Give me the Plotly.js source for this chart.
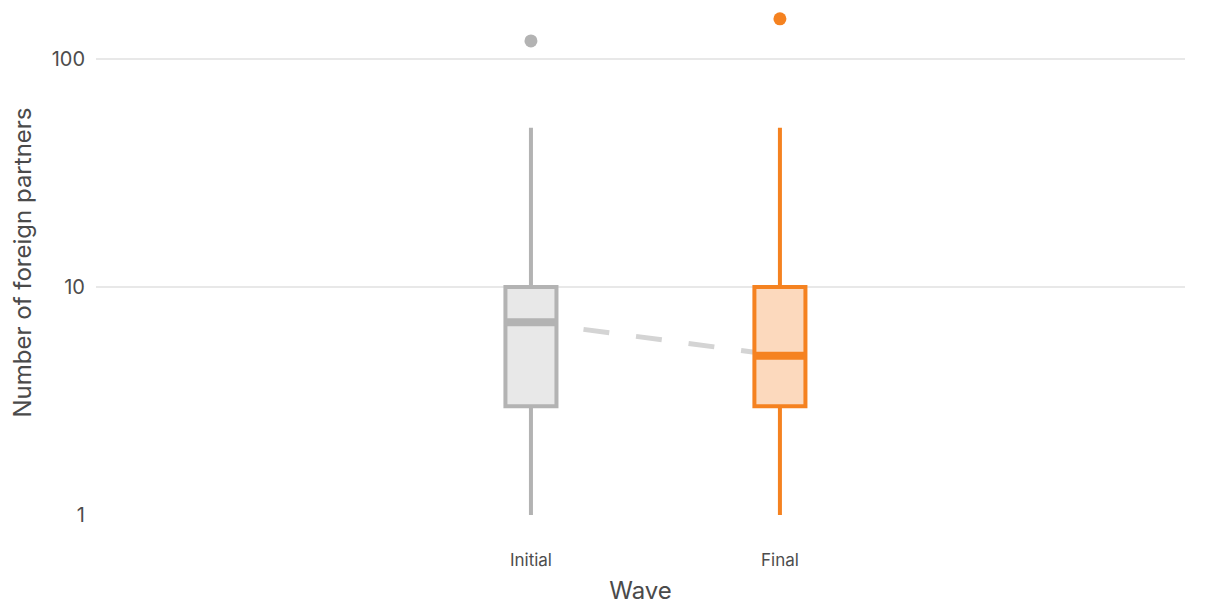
<!DOCTYPE html>
<html>
<head>
<meta charset="utf-8">
<script src="https://cdn.plot.ly/plotly-3.0.1.min.js"></script>
<style>html,body{margin:0;padding:0;background:#fff;}#chart{width:1214px;height:605px;}</style>
</head>
<body>
<div id="chart"></div>
<script>
// Data
const categories = ['Initial', 'Final'];
const lowerFence = [1, 1];
const q1 = [3, 3];
const median = [7, 5];
const q3 = [10, 10];
const upperFence = [50, 50];
const outliers = [[120], [150]];
const tickValsY = [1, 10, 100];
const tickTextY = ['1', '10', '100'];

// Styles
const lineColors = ['#b3b3b3', '#f58220'];
const fillColors = ['#e8e8e8', '#fcd9bd'];
const boxWidth = 0.205;
const pos = categories.map((c, i) => i);

const traces = [];
// dashed median trend line (underneath boxes)
traces.push({
  type: 'scatter', mode: 'lines', x: pos, y: median,
  xaxis: 'x', yaxis: 'y',
  line: {color: '#d4d4d4', width: 5, dash: '26px,27px'},
  hoverinfo: 'skip', showlegend: false
});
categories.forEach((c, i) => {
  traces.push({
    type: 'box', x: [pos[i]], xaxis: 'x2', yaxis: 'y',
    lowerfence: [lowerFence[i]], q1: [q1[i]], median: [median[i]], q3: [q3[i]], upperfence: [upperFence[i]],
    width: boxWidth, whiskerwidth: 0,
    line: {color: lineColors[i], width: 4},
    fillcolor: fillColors[i], boxpoints: false, name: c, showlegend: false
  });
  traces.push({
    type: 'scatter', mode: 'lines', xaxis: 'x2', yaxis: 'y',
    x: [pos[i] - boxWidth / 2, pos[i] + boxWidth / 2], y: [median[i], median[i]],
    line: {color: lineColors[i], width: 8}, hoverinfo: 'skip', showlegend: false
  });
  traces.push({
    type: 'scatter', mode: 'markers', xaxis: 'x2', yaxis: 'y',
    x: outliers[i].map(() => pos[i]), y: outliers[i],
    marker: {color: lineColors[i], size: 13}, showlegend: false
  });
});

const xr = [-1.747, 2.627];
const layout = {
  width: 1214, height: 605,
  margin: {l: 96, r: 29, t: 10, b: 90},
  paper_bgcolor: '#fff', plot_bgcolor: '#fff',
  font: {family: 'Inter, sans-serif', color: '#4d4d4d', size: 17},
  showlegend: false,
  xaxis: {
    type: 'linear', range: xr, tickvals: pos, ticktext: categories,
    showgrid: false, zeroline: false, showline: false, ticks: '',
    ticklabelstandoff: 33,
    tickfont: {size: 17, color: '#4d4d4d'},
    title: {text: 'Wave', font: {size: 24, color: '#4a4a4a'}, standoff: 15}
  },
  xaxis2: {
    type: 'linear', range: xr, overlaying: 'x', visible: false
  },
  yaxis: {
    type: 'log', range: [0, 2.215], tickvals: tickValsY, ticktext: tickTextY,
    showgrid: true, gridcolor: '#e8e8e8', gridwidth: 1.5,
    zeroline: false, showline: false, ticks: '', ticklabelstandoff: 10,
    tickfont: {size: 20, color: '#4d4d4d'},
    title: {text: 'Number of foreign partners', font: {size: 24, color: '#4a4a4a'}, standoff: 13}
  }
};

Plotly.newPlot('chart', traces, layout, {displayModeBar: false, staticPlot: true});
</script>
</body>
</html>
